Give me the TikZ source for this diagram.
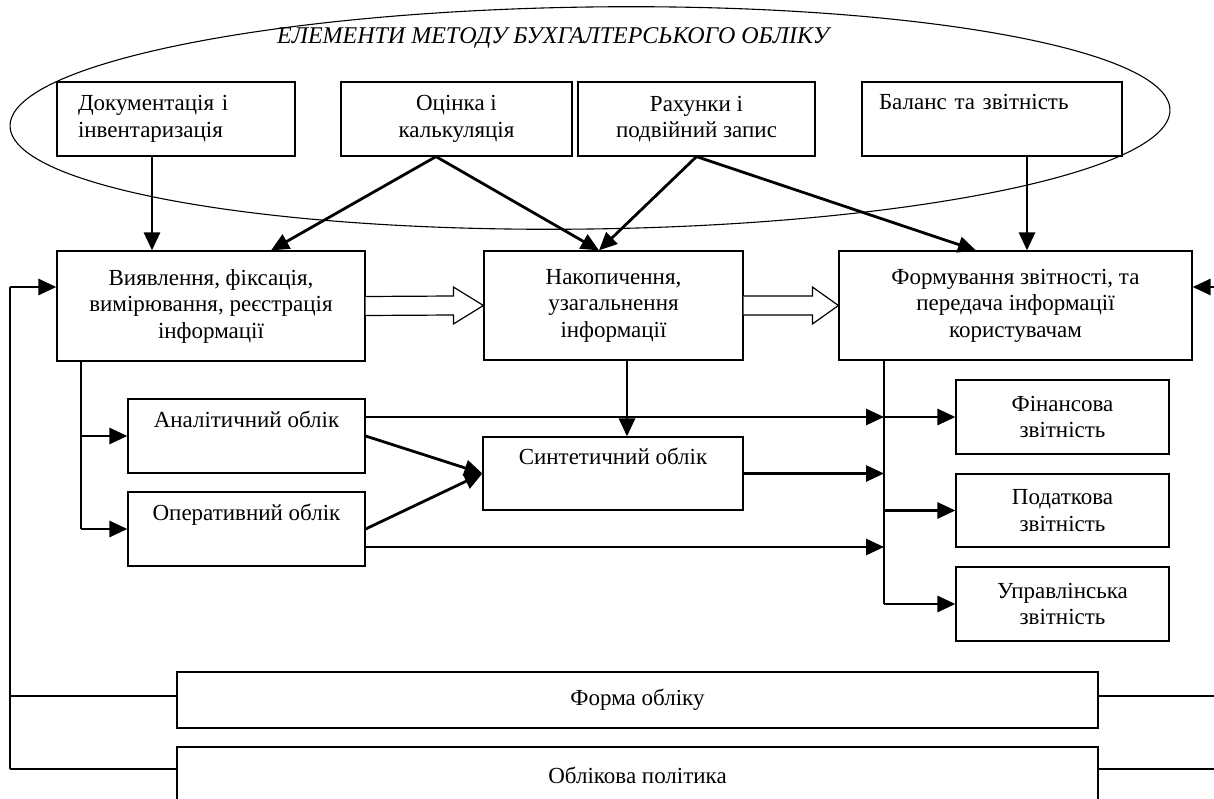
\documentclass[tikz,border=0pt]{standalone}
\usepackage{fontspec}
\setmainfont{Liberation Serif}
\usetikzlibrary{arrows.meta,calc}
\newcommand{\dfont}{\fontsize{23}{26.5}\selectfont}
\newcommand{\tfont}{\fontsize{24}{27}\selectfont}
\begin{document}
\begin{tikzpicture}[x=1pt,y=-1pt,
  box/.style={draw,line width=1.2pt,inner sep=0pt,align=center,font=\dfont},
  lbox/.style={draw,line width=1.2pt,inner ysep=0pt,align=left,font=\dfont},
  arr/.style={line width=2.8pt,-{Triangle[length=18pt,width=16pt]}},
  thinl/.style={line width=1.2pt},
  hollow/.style={draw,line width=1.2pt,fill=white,line join=miter}
]
\useasboundingbox (0,0) rectangle (1214,799);
\clip (0,0) rectangle (1214,799);

% ellipse and title
\draw[line width=1.1pt] (590,118) ellipse [x radius=580pt, y radius=111pt, rotate=0.8];
\node[font=\tfont\itshape] (title) at (553,38) {ЕЛЕМЕНТИ МЕТОДУ БУХГАЛТЕРСЬКОГО ОБЛІКУ};

% top row
\node[lbox,text width=196pt,inner xsep=21pt,minimum height=74pt] (doc) at (176,119) {Документація і\\інвентаризація};
\node[box,minimum width=231pt,minimum height=74pt] (otsinka) at (456.5,119) {Оцінка і\\калькуляція};
\node[box,minimum width=237pt,minimum height=74pt] (rakh) at (696.5,119) {Рахунки і\\подвійний запис};
\node[lbox,text width=226pt,inner xsep=17pt,minimum height=74pt] (balans) at (992,119) {Баланс та звітність\\\strut};

% middle row
\node[box,minimum width=308pt,minimum height=110pt] (viyav) at (211,306) {Виявлення, фіксація,\\вимірювання, реєстрація\\інформації};
\node[box,minimum width=259pt,minimum height=109pt] (nakop) at (613.5,305.5) {Накопичення,\\узагальнення\\інформації};
\node[box,minimum width=353pt,minimum height=109pt] (form) at (1015.5,305.5) {Формування звітності, та\\передача інформації\\користувачам};

% lower boxes
\node[box,minimum width=237pt,minimum height=74pt] (anal) at (246.5,436) {Аналітичний облік\\\strut};
\node[box,minimum width=237pt,minimum height=74pt] (oper) at (246.5,529) {Оперативний облік\\\strut};
\node[box,minimum width=260pt,minimum height=73pt] (synt) at (613,473.5) {Синтетичний облік\\\strut};
\node[box,minimum width=213pt,minimum height=74pt] (fin) at (1062.5,417) {Фінансова\\звітність};
\node[box,minimum width=213pt,minimum height=73pt] (pod) at (1062.5,510.5) {Податкова\\звітність};
\node[box,minimum width=213pt,minimum height=74pt] (upr) at (1062.5,604) {Управлінська\\звітність};
\node[box,minimum width=921pt,minimum height=56pt] (forma) at (637.5,700) {Форма обліку};
\node[box,minimum width=921pt,minimum height=56pt] (polit) at (637.5,775) {Облікова політика};

% auxiliary coordinates
\coordinate (L) at (10,0);
\coordinate (R) at (1214,0);
\coordinate (fbL) at ([yshift=19pt]viyav.west);
\coordinate (fbR) at ([yshift=18.5pt]form.east);
\coordinate (fmL) at ([yshift=4pt]forma.west);
\coordinate (fmR) at ([yshift=4pt]forma.east);
\coordinate (plL) at ([yshift=6pt]polit.west);
\coordinate (plR) at ([yshift=6pt]polit.east);
\coordinate (vx) at ([xshift=-131.5pt]form.south);
\coordinate (bx) at ([xshift=-130pt]viyav.south);
\coordinate (os) at ([xshift=-20.5pt]otsinka.south);
\coordinate (opo) at ([yshift=-18pt]oper.east);
\coordinate (ds) at ([xshift=-24pt]doc.south);
\coordinate (bs) at ([xshift=35pt]balans.south);
\coordinate (ns) at ([xshift=13.5pt]nakop.south);

% top arrows
\draw[arr] (ds) -- (ds |- viyav.north);
\draw[arr] (os) -- ([xshift=60pt]viyav.north);
\draw[arr] (os) -- ([xshift=-14.5pt]nakop.north);
\draw[arr] (rakh.south) -- ([xshift=-14.5pt]nakop.north);
\draw[arr] (rakh.south) -- ([xshift=-39.5pt]form.north);
\draw[arr] (bs) -- (bs |- form.north);

% hollow arrows
\draw[hollow] ($(viyav.east)+(0,-9.5)$) -- ($(nakop.west)+(-30,-9.5)$) -- ($(nakop.west)+(-30,-18.5)$) -- (nakop.west) -- ($(nakop.west)+(-30,18.5)$) -- ($(nakop.west)+(-30,9.5)$) -- ($(viyav.east)+(0,9.5)$);
\draw[hollow] ($(nakop.east)+(0,-9.5)$) -- ($(form.west)+(-26,-9.5)$) -- ($(form.west)+(-26,-18.5)$) -- (form.west) -- ($(form.west)+(-26,18.5)$) -- ($(form.west)+(-26,9.5)$) -- ($(nakop.east)+(0,9.5)$);

% left branch
\draw[thinl] (bx) -- (bx |- oper.west);
\draw[arr] (bx |- anal.west) -- (anal.west);
\draw[arr] (bx |- oper.west) -- (oper.west);

% accumulation to synthetic
\draw[arr] (ns) -- (ns |- synt.north);
\draw[arr] (anal.east) -- (synt.west);
\draw[arr] (oper.east) -- (synt.west);

% right collector
\draw[thinl] (vx) -- (vx |- upr.west);
\draw[arr] (anal.east |- fin.west) -- (vx |- fin.west);
\draw[arr] (vx |- fin.west) -- (fin.west);
\draw[arr] (synt.east) -- (vx |- synt.east);
\draw[arr] (opo) -- (vx |- opo);
\draw[arr] (vx |- pod.west) -- (pod.west);
\draw[arr] (vx |- upr.west) -- (upr.west);

% feedback lines
\draw[thinl] (fbL -| L) -- (plL -| L);
\draw[arr] (fbL -| L) -- (fbL);
\draw[thinl] (fmL -| L) -- (fmL);
\draw[thinl] (plL -| L) -- (plL);
\draw[thinl] (fmR) -- (fmR -| R);
\draw[thinl] (plR) -- (plR -| R);
\draw[arr] (fbR -| R) -- (fbR);
\end{tikzpicture}
\end{document}
